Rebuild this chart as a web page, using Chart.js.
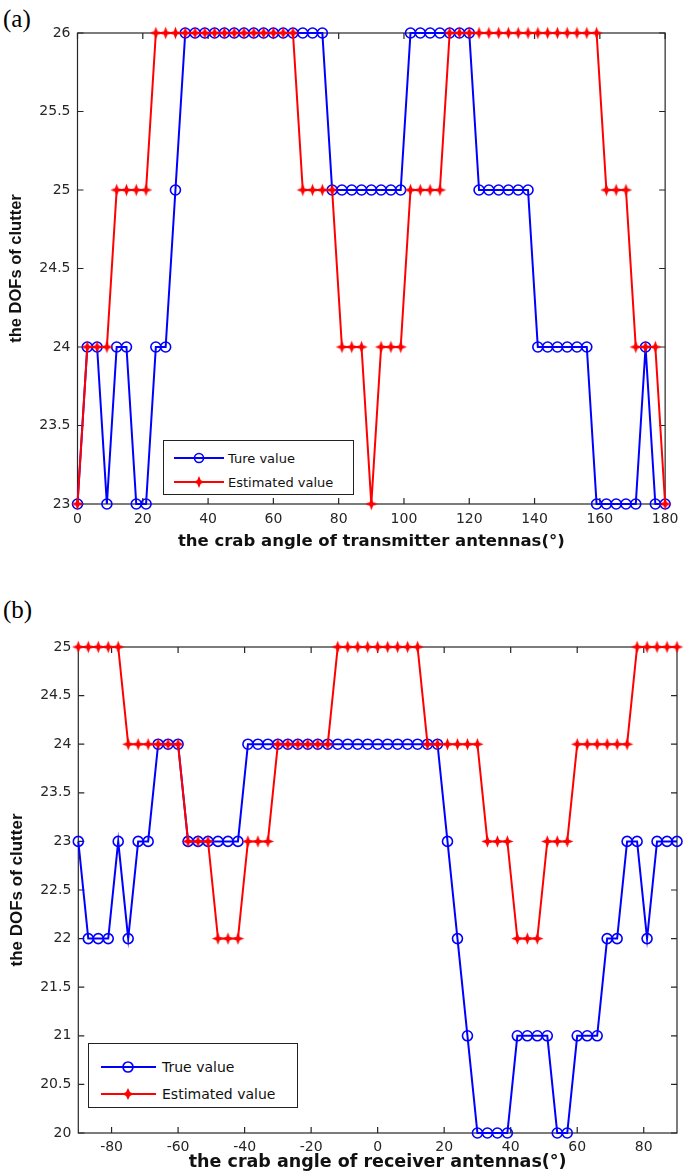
<!DOCTYPE html>
<html><head><meta charset="utf-8">
<script src="https://cdn.jsdelivr.net/npm/chart.js@4.4.1/dist/chart.umd.min.js"></script>
<style>
html,body{margin:0;padding:0;background:#fff;}
body{width:685px;height:1171px;position:relative;overflow:hidden;font-family:"DejaVu Sans",sans-serif;}
canvas{position:absolute;left:0;}
.panel{position:absolute;left:3px;font-family:"Liberation Serif","Times New Roman",serif;font-size:25px;color:#000;line-height:1;}
.legend{position:absolute;background:#fff;border:1px solid #222;box-sizing:border-box;color:#111;font-family:"DejaVu Sans",sans-serif;}
.legend .row{position:absolute;left:0;display:flex;align-items:center;white-space:nowrap;}
.legend svg{display:block;}
</style></head><body>
<div class="panel" style="top:6px;">(a)</div>
<div class="panel" style="top:597px;">(b)</div>
<canvas id="ca" width="685" height="560" style="top:0;width:685px;height:560px;"></canvas>
<canvas id="cb" width="685" height="611" style="top:560px;width:685px;height:611px;"></canvas>

<div class="legend" style="left:163px;top:440px;width:191px;height:55px;font-size:13px;">
  <div class="row" style="top:8px;height:18px;"><svg width="64" height="18"><line x1="10" y1="9" x2="60" y2="9" stroke="#0000ff" stroke-width="2"/><circle cx="35" cy="9" r="4.5" fill="none" stroke="#0000ff" stroke-width="1.6"/></svg><span id="la1"></span></div>
  <div class="row" style="top:32px;height:18px;"><svg width="64" height="18"><line x1="10" y1="9" x2="60" y2="9" stroke="#ff0000" stroke-width="2"/><path d="M35 3 L36.8 7.2 L41 9 L36.8 10.8 L35 15 L33.2 10.8 L29 9 L33.2 7.2 Z" fill="#ff0000"/></svg><span id="la2"></span></div>
</div>
<div class="legend" style="left:88px;top:1043px;width:210px;height:65px;font-size:14px;">
  <div class="row" style="top:13px;height:20px;"><svg width="73" height="20"><line x1="12" y1="10" x2="67" y2="10" stroke="#0000ff" stroke-width="2"/><circle cx="39" cy="10" r="5" fill="none" stroke="#0000ff" stroke-width="1.7"/></svg><span id="lb1"></span></div>
  <div class="row" style="top:40px;height:20px;"><svg width="73" height="20"><line x1="12" y1="10" x2="67" y2="10" stroke="#ff0000" stroke-width="2"/><path d="M39 4 L40.9 8.1 L45 10 L40.9 11.9 L39 16 L37.1 11.9 L33 10 L37.1 8.1 Z" fill="#ff0000"/></svg><span id="lb2"></span></div>
</div>

<script>
// ---------- data ----------
const xA = [0,3,6,9,12,15,18,21,24,27,30,33,36,39,42,45,48,51,54,57,60,63,66,69,72,75,78,81,84,87,90,93,96,99,102,105,108,111,114,117,120,123,126,129,132,135,138,141,144,147,150,153,156,159,162,165,168,171,174,177,180];
const trueA = [23,24,24,23,24,24,23,23,24,24,25,
  26,26,26,26,26,26,26,26,26,26,26,26,26,26,26,
  25,25,25,25,25,25,25,25,
  26,26,26,26,26,26,26,
  25,25,25,25,25,25,
  24,24,24,24,24,24,
  23,23,23,23,23,
  24,23,23];
const estA = [23,24,24,24,25,25,25,25,
  26,26,26,26,26,26,26,26,26,26,26,26,26,26,26,
  25,25,25,25,
  24,24,24,
  23,
  24,24,24,
  25,25,25,25,
  26,26,26,26,26,26,26,26,26,26,26,26,26,26,26,26,
  25,25,25,
  24,24,24,
  23];
const xB = [-90,-87,-84,-81,-78,-75,-72,-69,-66,-63,-60,-57,-54,-51,-48,-45,-42,-39,-36,-33,-30,-27,-24,-21,-18,-15,-12,-9,-6,-3,0,3,6,9,12,15,18,21,24,27,30,33,36,39,42,45,48,51,54,57,60,63,66,69,72,75,78,81,84,87,90];
const trueB = [23,22,22,22,23,22,23,23,24,24,24,
  23,23,23,23,23,23,
  24,24,24,24,24,24,24,24,24,24,24,24,24,24,24,24,24,24,24,24,
  23,22,21,
  20,20,20,20,
  21,21,21,21,
  20,20,
  21,21,21,
  22,22,
  23,23,
  22,
  23,23,23];
const estB = [25,25,25,25,25,
  24,24,24,24,24,24,
  23,23,23,
  22,22,22,
  23,23,23,
  24,24,24,24,24,24,
  25,25,25,25,25,25,25,25,25,
  24,24,24,24,24,24,
  23,23,23,
  22,22,22,
  23,23,23,
  24,24,24,24,24,24,
  25,25,25,25,25];
const xTicksA = [0,20,40,60,80,100,120,140,160,180];
const yTicksA = [23,23.5,24,24.5,25,25.5,26];
const xTicksB = [-80,-60,-40,-20,0,20,40,60,80];
const yTicksB = [20,20.5,21,21.5,22,22.5,23,23.5,24,24.5,25];
const legendA = ['Ture value','Estimated value'];
const legendB = ['True value','Estimated value'];
const xTitleA = 'the crab angle of transmitter antennas(\u00b0)';
const xTitleB = 'the crab angle of receiver antennas(\u00b0)';
const yTitle = 'the DOFs of clutter';

document.getElementById('la1').textContent = legendA[0];
document.getElementById('la2').textContent = legendA[1];
document.getElementById('lb1').textContent = legendB[0];
document.getElementById('lb2').textContent = legendB[1];

// ---------- marker ----------
function starImage(color, r, ri) {
  const c = document.createElement('canvas');
  const s = Math.ceil(2 * r + 2);
  c.width = s; c.height = s;
  const g = c.getContext('2d');
  g.fillStyle = color;
  g.beginPath();
  for (let i = 0; i < 8; i++) {
    const ang = i * Math.PI / 4 - Math.PI / 2;
    const rad = (i % 2 === 0) ? r : ri;
    const px = s / 2 + rad * Math.cos(ang), py = s / 2 + rad * Math.sin(ang);
    if (i === 0) g.moveTo(px, py); else g.lineTo(px, py);
  }
  g.closePath(); g.fill();
  return c;
}
const redStar = starImage('#ff0000', 6.2, 2.4);

const boxPlugin = {
  id: 'boxTicks',
  beforeDatasetsDraw(chart) {
    const {ctx, chartArea: a, scales: {x, y}} = chart;
    ctx.save();
    ctx.strokeStyle = '#262626';
    ctx.lineWidth = 1.2;
    ctx.strokeRect(a.left, a.top, a.right - a.left, a.bottom - a.top);
    const L = 6;
    ctx.beginPath();
    x.ticks.forEach(t => {
      const p = x.getPixelForValue(t.value);
      ctx.moveTo(p, a.bottom); ctx.lineTo(p, a.bottom - L);
      ctx.moveTo(p, a.top); ctx.lineTo(p, a.top + L);
    });
    y.ticks.forEach(t => {
      const p = y.getPixelForValue(t.value);
      ctx.moveTo(a.left, p); ctx.lineTo(a.left + L, p);
      ctx.moveTo(a.right, p); ctx.lineTo(a.right - L, p);
    });
    ctx.stroke();
    ctx.restore();
  }
};

function build(id, cfg) {
  const tickFont = {family: '"DejaVu Sans", sans-serif', size: 14};
  return new Chart(document.getElementById(id), {
    type: 'line',
    data: {
      datasets: [
        {label: cfg.legend[0], data: cfg.xs.map((v, i) => ({x: v, y: cfg.tru[i]})),
         borderColor: '#0000ff', borderWidth: 2, pointStyle: 'circle', pointRadius: 5,
         pointBorderWidth: 1.6, pointBackgroundColor: 'rgba(0,0,0,0)', pointBorderColor: '#0000ff',
         tension: 0, clip: false, order: 1},
        {label: cfg.legend[1], data: cfg.xs.map((v, i) => ({x: v, y: cfg.est[i]})),
         borderColor: '#ff0000', borderWidth: 2, pointStyle: redStar, pointRadius: 6,
         pointBackgroundColor: '#ff0000', pointBorderColor: '#ff0000',
         tension: 0, clip: false, order: 0}
      ]
    },
    options: {
      responsive: false, animation: false, devicePixelRatio: 1,
      layout: {padding: cfg.pad},
      plugins: {legend: {display: false}, tooltip: {enabled: false}},
      scales: {
        x: {
          type: 'linear', min: cfg.xmin, max: cfg.xmax,
          grid: {display: false, drawTicks: false}, border: {display: false},
          afterBuildTicks: s => { s.ticks = cfg.xticks.map(v => ({value: v})); },
          afterFit: s => { s.height = cfg.xh; },
          ticks: {font: tickFont, color: '#262626', padding: cfg.xlp, callback: v => String(v), maxRotation: 0, autoSkip: false},
          title: {display: true, text: cfg.xtitle, font: cfg.xtf, color: '#111', padding: {top: 0, bottom: cfg.xtpad}}
        },
        y: {
          type: 'linear', min: cfg.ymin, max: cfg.ymax,
          grid: {display: false, drawTicks: false}, border: {display: false},
          afterBuildTicks: s => { s.ticks = cfg.yticks.map(v => ({value: v})); },
          afterFit: s => { s.width = cfg.yw; },
          ticks: {font: tickFont, color: '#262626', padding: 7, callback: v => String(v), autoSkip: false},
          title: {display: true, text: yTitle, font: cfg.ytf, color: '#111', padding: {top: 7, bottom: 0}}
        }
      }
    },
    plugins: [boxPlugin]
  });
}

build('ca', {xs: xA, tru: trueA, est: estA, legend: legendA, xmin: 0, xmax: 180, ymin: 23, ymax: 26,
  xticks: xTicksA, yticks: yTicksA, xtitle: xTitleA,
  xtf: {family: '"DejaVu Sans", sans-serif', size: 16.5, weight: 'bold', lineHeight: 1.2},
  ytf: {family: '"Liberation Sans", Arial, sans-serif', size: 16.5, weight: 'bold', lineHeight: 1.2},
  pad: {top: 33, right: 18.5, bottom: 0, left: 0}, xh: 56, yw: 77.5, xtpad: 8, xlp: 6.5});
build('cb', {xs: xB, tru: trueB, est: estB, legend: legendB, xmin: -90, xmax: 90, ymin: 20, ymax: 25,
  xticks: xTicksB, yticks: yTicksB, xtitle: xTitleB,
  xtf: {family: '"DejaVu Sans", sans-serif', size: 17.5, weight: 'bold', lineHeight: 1.0},
  ytf: {family: '"Liberation Sans", Arial, sans-serif', size: 17, weight: 'bold', lineHeight: 1.2},
  pad: {top: 87, right: 8, bottom: 0, left: 0}, xh: 38, yw: 78.3, xtpad: 0, xlp: 6});
</script>
</body></html>
